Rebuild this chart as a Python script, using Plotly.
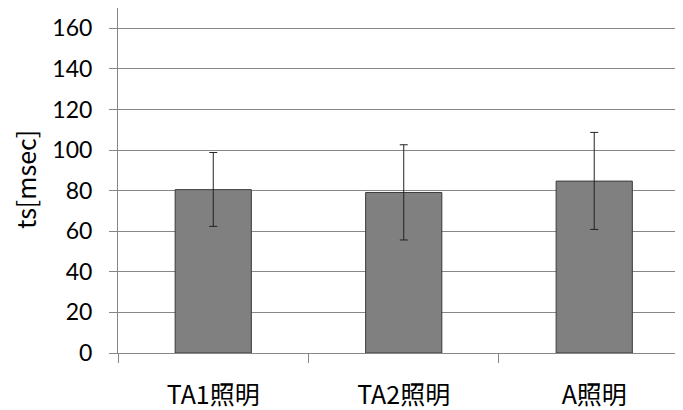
import plotly.graph_objects as go

categories = ["TA1照明", "TA2照明", "A照明"]
means = [80.5, 79.1, 84.7]
err_plus = [18.3, 23.5, 24.0]
err_minus = [18.1, 23.4, 23.8]
y_ticks = [0, 20, 40, 60, 80, 100, 120, 140, 160]

NUM_FONT = "Lato, 'Noto Sans CJK JP', sans-serif"
JP_FONT = "'Noto Sans CJK JP', sans-serif"
GRID = "#878787"

fig = go.Figure()
fig.add_trace(go.Bar(
    x=categories, y=means, width=0.4,
    marker=dict(color="#808080", line=dict(color="#3a3a3a", width=1)),
    error_y=dict(type="data", symmetric=False, array=err_plus, arrayminus=err_minus,
                 color="#222222", thickness=1, width=4),
))

# page has an 8px body margin; figure is sized to fill the rest of the window
fig.update_layout(
    width=675, height=402,
    margin=dict(l=110, r=0, t=0, b=57),
    plot_bgcolor="white", paper_bgcolor="white",
    showlegend=False,
    font=dict(family=NUM_FONT, size=23, color="#000000"),
    xaxis=dict(
        type="category", range=[-0.5, 2.466],
        showline=True, linecolor=GRID, linewidth=1,
        ticks="outside", tickson="boundaries", ticklen=9, tickcolor=GRID,
        showgrid=False, ticklabelstandoff=20,
        tickfont=dict(family=JP_FONT, size=25),
    ),
    yaxis=dict(
        range=[0, 170], tickvals=y_ticks,
        showline=True, linecolor=GRID, linewidth=1,
        ticks="outside", ticklen=8, tickcolor=GRID,
        showgrid=True, gridcolor=GRID, gridwidth=1,
        zeroline=False, ticklabelstandoff=12,
        tickfont=dict(family=NUM_FONT, size=23),
    ),
    annotations=[dict(
        text="ts[msec]", textangle=-90, showarrow=False,
        xref="paper", yref="paper",
        x=(25 - 118) / 565, y=(353 - 180) / 345,
        xanchor="center", yanchor="middle",
        font=dict(family=JP_FONT, size=25),
    )],
)

fig.write_html("out.html")
